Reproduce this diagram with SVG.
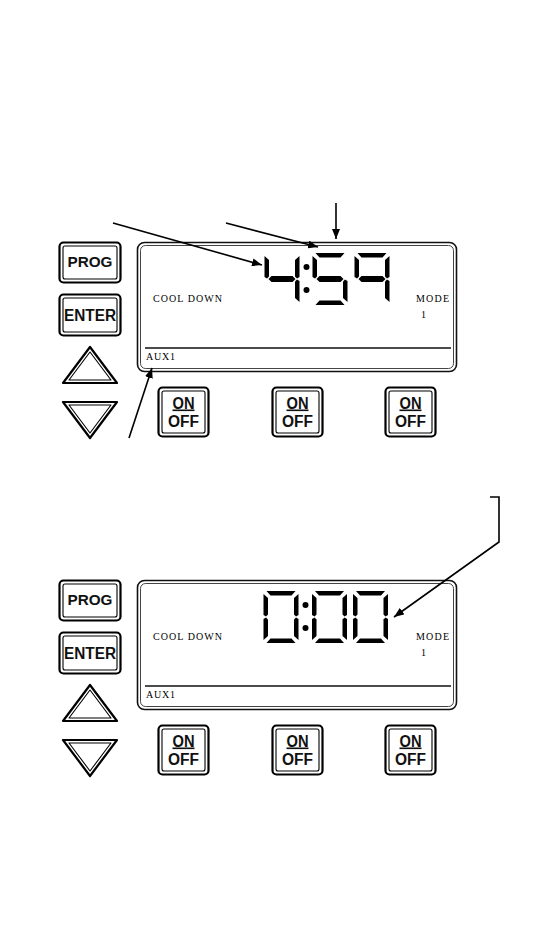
<svg xmlns="http://www.w3.org/2000/svg" xmlns:xlink="http://www.w3.org/1999/xlink" width="543" height="937" viewBox="0 0 543 937">
<style>
.btnO{fill:#fff;stroke:#000;stroke-width:2.2}
.btnI{fill:none;stroke:#000;stroke-width:1.1}
.btxt{font-family:"Liberation Sans",Arial,sans-serif;font-weight:bold;fill:#111}
.lcdO{fill:#fff;stroke:#111;stroke-width:1.6}
.lcdI{fill:none;stroke:#444;stroke-width:1}
.sep{stroke:#111;stroke-width:1.4}
.small{font-family:"Liberation Serif","Times New Roman",serif;font-size:10px;fill:#000}
.seg{fill:#000}
.conn{stroke:#000;stroke-width:1.6;fill:none}
</style>
<defs>
<marker id="ah" viewBox="0 0 10 8" refX="10" refY="4" markerWidth="10" markerHeight="8" markerUnits="userSpaceOnUse" orient="auto">
<path d="M0,0 L10,4 L0,8 Z" fill="#000"/>
</marker>
<polygon id="sa" class="seg" points="3,0 32,0 28,4.5 7,4.5"/>
<polygon id="sb" class="seg" points="35,3 35,24 32.5,25.5 30.5,23.5 30.5,7"/>
<polygon id="sc" class="seg" points="35,28 35,49 30.5,45 30.5,28.5 32.5,26.5"/>
<polygon id="sd" class="seg" points="3,52 32,52 28,47.5 7,47.5"/>
<polygon id="se" class="seg" points="0,28 0,49 4.5,45 4.5,28.5 2.5,26.5"/>
<polygon id="sf" class="seg" points="0,3 0,24 2.5,25.5 4.5,23.5 4.5,7"/>
<polygon id="sg" class="seg" points="4,26 7,23 28,23 31,26 28,29 7,29"/>
<g id="dig4"><use xlink:href="#sf"/><use xlink:href="#sb"/><use xlink:href="#sg"/><use xlink:href="#sc"/></g>
<g id="dig5"><use xlink:href="#sa"/><use xlink:href="#sf"/><use xlink:href="#sg"/><use xlink:href="#sc"/><use xlink:href="#sd"/></g>
<g id="dig9"><use xlink:href="#sa"/><use xlink:href="#sf"/><use xlink:href="#sb"/><use xlink:href="#sg"/><use xlink:href="#sc"/></g>
<g id="dig0"><use xlink:href="#sa"/><use xlink:href="#sb"/><use xlink:href="#sc"/><use xlink:href="#sd"/><use xlink:href="#se"/><use xlink:href="#sf"/></g>
<g id="colon"><circle cx="0" cy="14" r="3" fill="#000"/><circle cx="0" cy="37" r="3" fill="#000"/></g>
</defs>
<rect width="543" height="937" fill="#fff"/>

<!-- Top panel -->
<g id="panel-top">
  <g id="prog-1">
    <rect class="btnO" x="59.5" y="242.5" width="61" height="40" rx="4"/>
    <rect class="btnI" x="63" y="246" width="54" height="33" rx="2"/>
    <text class="btxt" x="90" y="267" font-size="15" text-anchor="middle" textLength="45" lengthAdjust="spacingAndGlyphs">PROG</text>
  </g>
  <g id="enter-1">
    <rect class="btnO" x="59.5" y="294.5" width="61" height="41" rx="4"/>
    <rect class="btnI" x="63" y="298" width="54" height="34" rx="2"/>
    <text class="btxt" x="90" y="320.5" font-size="16" text-anchor="middle" textLength="52" lengthAdjust="spacingAndGlyphs">ENTER</text>
  </g>
  <g id="up-1">
    <polygon points="90,347 117,383 63,383" fill="#fff" stroke="#000" stroke-width="2.2" stroke-linejoin="round"/>
    <polygon points="90,352 111,380 69,380" fill="none" stroke="#000" stroke-width="1.1" stroke-linejoin="round"/>
  </g>
  <g id="down-1">
    <polygon points="63,402 117,402 90,438" fill="#fff" stroke="#000" stroke-width="2.2" stroke-linejoin="round"/>
    <polygon points="69,405 111,405 90,433" fill="none" stroke="#000" stroke-width="1.1" stroke-linejoin="round"/>
  </g>
  <g id="lcd-1">
    <rect class="lcdO" x="137.5" y="242.5" width="319" height="129" rx="7"/>
    <rect class="lcdI" x="140.5" y="245.5" width="313" height="123" rx="5"/>
    <line class="sep" x1="145" y1="348" x2="451" y2="348"/>
    <text class="small" x="153" y="302" textLength="69" lengthAdjust="spacing">COOL DOWN</text>
    <text class="small" x="416" y="302" textLength="33" lengthAdjust="spacing">MODE</text>
    <text class="small" x="421" y="318">1</text>
    <text class="small" x="146" y="360" textLength="29" lengthAdjust="spacing">AUX1</text>
    <g id="time-1">
      <use xlink:href="#dig4" x="264.5" y="253"/>
      <use xlink:href="#colon" x="306.5" y="253"/>
      <use xlink:href="#dig5" x="312.5" y="253"/>
      <use xlink:href="#dig9" x="354.5" y="253"/>
    </g>
  </g>
  <g id="onoff-1a">
    <rect class="btnO" x="158.5" y="387.5" width="50" height="49" rx="4"/>
    <rect class="btnI" x="162" y="391" width="43" height="42" rx="2"/>
    <text class="btxt" x="183.5" y="408.5" font-size="16" text-anchor="middle" textLength="22" lengthAdjust="spacingAndGlyphs" text-decoration="underline">ON</text>
    <text class="btxt" x="183.5" y="427" font-size="16" text-anchor="middle" textLength="31" lengthAdjust="spacingAndGlyphs">OFF</text>
  </g>
  <g id="onoff-1b">
    <rect class="btnO" x="272.5" y="387.5" width="50" height="49" rx="4"/>
    <rect class="btnI" x="276" y="391" width="43" height="42" rx="2"/>
    <text class="btxt" x="297.5" y="408.5" font-size="16" text-anchor="middle" textLength="22" lengthAdjust="spacingAndGlyphs" text-decoration="underline">ON</text>
    <text class="btxt" x="297.5" y="427" font-size="16" text-anchor="middle" textLength="31" lengthAdjust="spacingAndGlyphs">OFF</text>
  </g>
  <g id="onoff-1c">
    <rect class="btnO" x="385.5" y="387.5" width="50" height="49" rx="4"/>
    <rect class="btnI" x="389" y="391" width="43" height="42" rx="2"/>
    <text class="btxt" x="410.5" y="408.5" font-size="16" text-anchor="middle" textLength="22" lengthAdjust="spacingAndGlyphs" text-decoration="underline">ON</text>
    <text class="btxt" x="410.5" y="427" font-size="16" text-anchor="middle" textLength="31" lengthAdjust="spacingAndGlyphs">OFF</text>
  </g>
</g>

<!-- Bottom panel -->
<g id="panel-bottom" transform="translate(0,338)">
  <g id="prog-2">
    <rect class="btnO" x="59.5" y="242.5" width="61" height="40" rx="4"/>
    <rect class="btnI" x="63" y="246" width="54" height="33" rx="2"/>
    <text class="btxt" x="90" y="267" font-size="15" text-anchor="middle" textLength="45" lengthAdjust="spacingAndGlyphs">PROG</text>
  </g>
  <g id="enter-2">
    <rect class="btnO" x="59.5" y="294.5" width="61" height="41" rx="4"/>
    <rect class="btnI" x="63" y="298" width="54" height="34" rx="2"/>
    <text class="btxt" x="90" y="320.5" font-size="16" text-anchor="middle" textLength="52" lengthAdjust="spacingAndGlyphs">ENTER</text>
  </g>
  <g id="up-2">
    <polygon points="90,347 117,383 63,383" fill="#fff" stroke="#000" stroke-width="2.2" stroke-linejoin="round"/>
    <polygon points="90,352 111,380 69,380" fill="none" stroke="#000" stroke-width="1.1" stroke-linejoin="round"/>
  </g>
  <g id="down-2">
    <polygon points="63,402 117,402 90,438" fill="#fff" stroke="#000" stroke-width="2.2" stroke-linejoin="round"/>
    <polygon points="69,405 111,405 90,433" fill="none" stroke="#000" stroke-width="1.1" stroke-linejoin="round"/>
  </g>
  <g id="lcd-2">
    <rect class="lcdO" x="137.5" y="242.5" width="319" height="129" rx="7"/>
    <rect class="lcdI" x="140.5" y="245.5" width="313" height="123" rx="5"/>
    <line class="sep" x1="145" y1="348" x2="451" y2="348"/>
    <text class="small" x="153" y="302" textLength="69" lengthAdjust="spacing">COOL DOWN</text>
    <text class="small" x="416" y="302" textLength="33" lengthAdjust="spacing">MODE</text>
    <text class="small" x="421" y="318">1</text>
    <text class="small" x="146" y="360" textLength="29" lengthAdjust="spacing">AUX1</text>
    <g id="time-2">
      <use xlink:href="#dig0" x="263.5" y="253"/>
      <use xlink:href="#colon" x="305.5" y="253"/>
      <use xlink:href="#dig0" x="312" y="253"/>
      <use xlink:href="#dig0" x="353" y="253"/>
    </g>
  </g>
  <g id="onoff-2a">
    <rect class="btnO" x="158.5" y="387.5" width="50" height="49" rx="4"/>
    <rect class="btnI" x="162" y="391" width="43" height="42" rx="2"/>
    <text class="btxt" x="183.5" y="408.5" font-size="16" text-anchor="middle" textLength="22" lengthAdjust="spacingAndGlyphs" text-decoration="underline">ON</text>
    <text class="btxt" x="183.5" y="427" font-size="16" text-anchor="middle" textLength="31" lengthAdjust="spacingAndGlyphs">OFF</text>
  </g>
  <g id="onoff-2b">
    <rect class="btnO" x="272.5" y="387.5" width="50" height="49" rx="4"/>
    <rect class="btnI" x="276" y="391" width="43" height="42" rx="2"/>
    <text class="btxt" x="297.5" y="408.5" font-size="16" text-anchor="middle" textLength="22" lengthAdjust="spacingAndGlyphs" text-decoration="underline">ON</text>
    <text class="btxt" x="297.5" y="427" font-size="16" text-anchor="middle" textLength="31" lengthAdjust="spacingAndGlyphs">OFF</text>
  </g>
  <g id="onoff-2c">
    <rect class="btnO" x="385.5" y="387.5" width="50" height="49" rx="4"/>
    <rect class="btnI" x="389" y="391" width="43" height="42" rx="2"/>
    <text class="btxt" x="410.5" y="408.5" font-size="16" text-anchor="middle" textLength="22" lengthAdjust="spacingAndGlyphs" text-decoration="underline">ON</text>
    <text class="btxt" x="410.5" y="427" font-size="16" text-anchor="middle" textLength="31" lengthAdjust="spacingAndGlyphs">OFF</text>
  </g>
</g>

<!-- Connectors -->
<g id="connectors">
  <line class="conn" x1="113" y1="223" x2="262" y2="265" marker-end="url(#ah)"/>
  <line class="conn" x1="226" y1="223" x2="318" y2="247" marker-end="url(#ah)"/>
  <line class="conn" x1="336" y1="203" x2="336" y2="239" marker-end="url(#ah)"/>
  <line class="conn" x1="129" y1="438" x2="152" y2="368" marker-end="url(#ah)"/>
  <polyline class="conn" points="490,497 499,497 499,542 394,617" marker-end="url(#ah)"/>
</g>
</svg>
